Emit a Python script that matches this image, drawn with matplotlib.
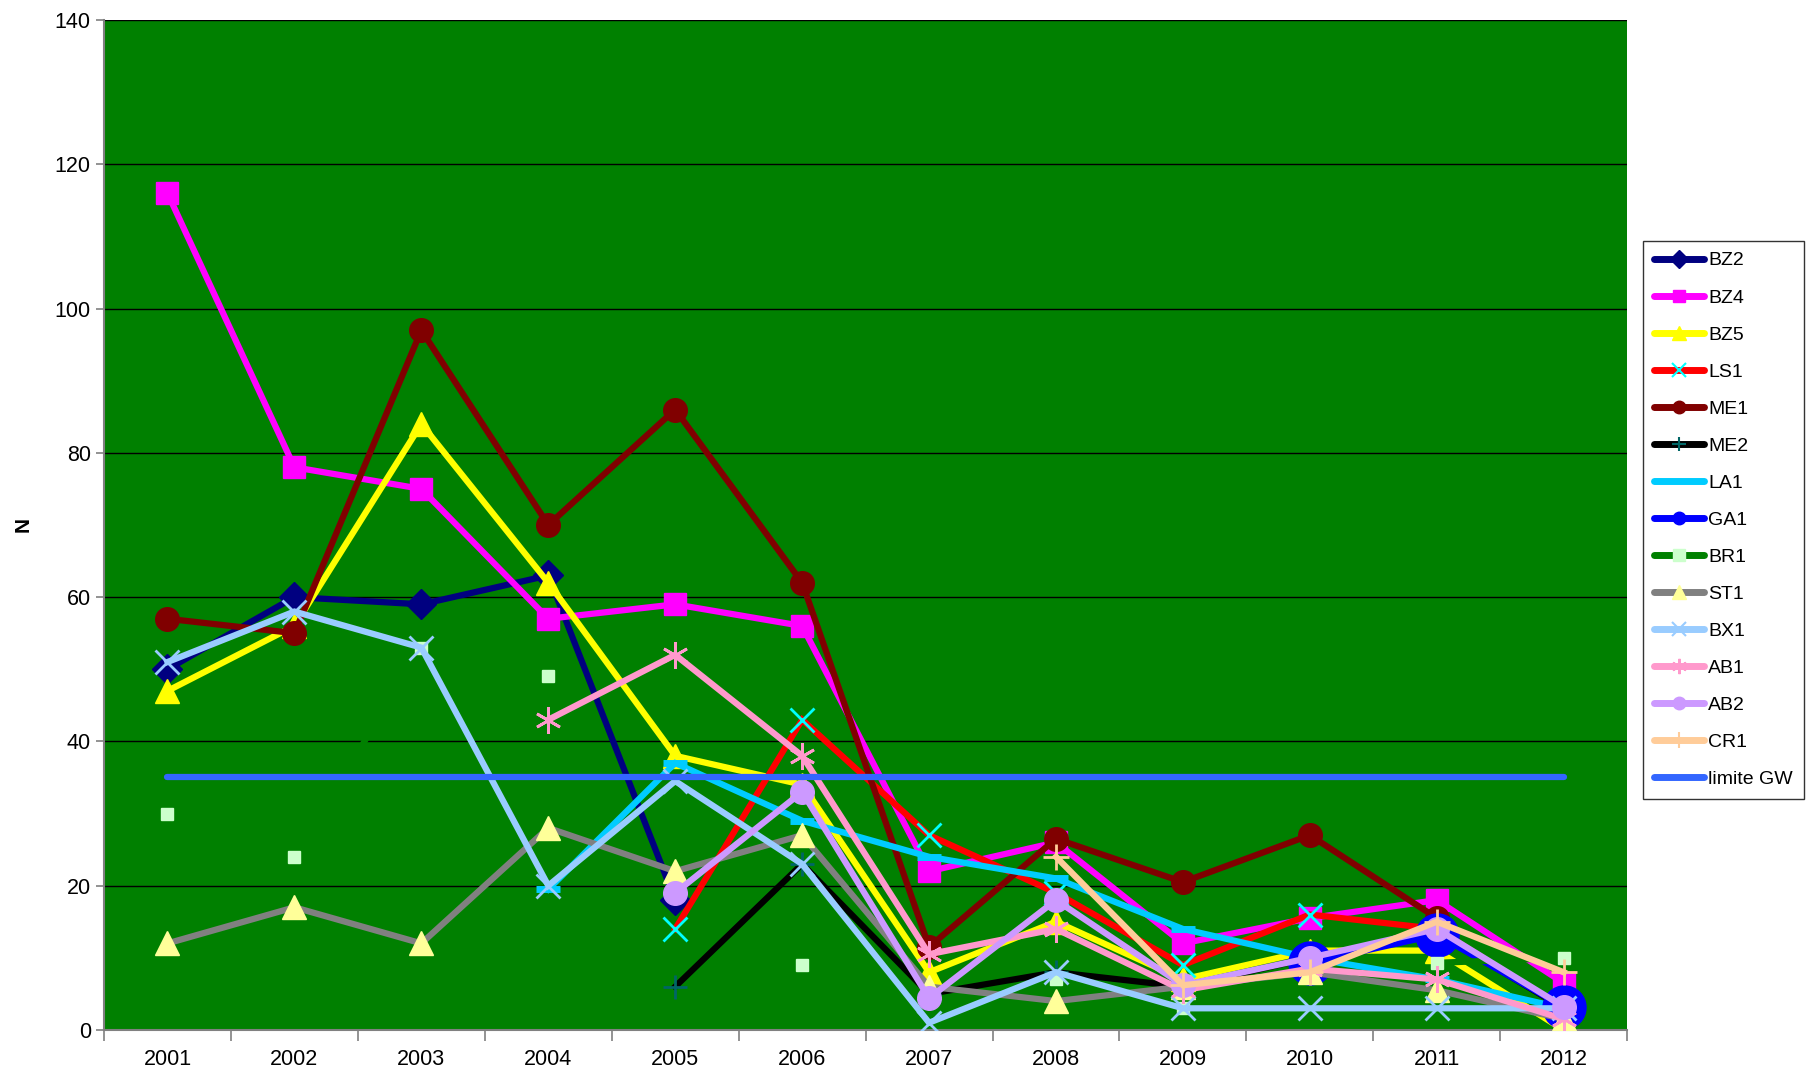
import numpy as np
import matplotlib
matplotlib.use("Agg")
import matplotlib.pyplot as plt
from matplotlib.lines import Line2D

nan = np.nan
years = ['2001', '2002', '2003', '2004', '2005', '2006',
         '2007', '2008', '2009', '2010', '2011', '2012']

bz2 = [50, 60, 59, 63, 18, nan, nan, nan, nan, nan, nan, nan]
bz4 = [116, 78, 75, 57, 59, 56, 22, 26, 12, 15.5, 18, 6.5]
bz5 = [47, 56, 84, 62, 38, 34, 8, 15, 7, 11, 11, 0]
ls1 = [nan, nan, nan, nan, 14, 43, 27, 19, 9, 16, 14, 3]
me1 = [57, 55, 97, 70, 86, 62, 11.5, 26.5, 20.5, 27, 15.5, nan]
me2 = [nan, nan, nan, nan, 6, 23, 5, 8, 6, 10, 13.5, 3]
la1 = [nan, nan, nan, 19.5, 37, 29, 24, 21, 14, 10, 7, 3]
ga1 = [nan, nan, nan, nan, nan, nan, nan, nan, nan, 9.3, 13.2, 3.2]
br1 = [30, 24, 53, 49, nan, 9, nan, 7, 3, nan, 9.3, 10]
st1 = [12, 17, 12, 28, 22, 27, 6, 4, 6, 8, 5.5, 1.5]
bx1 = [51, 58, 53, 20, 34.5, 23, 1, 8, 3, 3, 3, 3]
ab1 = [nan, nan, nan, 43, 52, 38, 10.5, 14, 5.5, 8.5, 7, 1.5]
ab2 = [nan, nan, nan, nan, 19, 33, 4.4, 18, 6.2, 10, 14, 3.2]
cr1 = [nan, nan, nan, nan, nan, nan, nan, 24, 6.2, 8, 15, 8]
limite = [35] * 12

plt.rcParams['font.family'] = ['Liberation Sans', 'DejaVu Sans']

fig = plt.figure(figsize=(18.09, 10.76), dpi=100)
ax = fig.add_axes([0.0575, 0.0428, 0.842, 0.9386])
ax.set_facecolor('#008000')

x = np.arange(len(years))
asterisk = (6, 2, 0)

# (label, values, line colour, marker, marker face, marker edge, size, edge width, legend size)
series = [
    ('BZ2', bz2, '#000080', 'D', '#000080', '#000080', 15, 1, 9),
    ('BZ4', bz4, '#FF00FF', 's', '#FF00FF', '#FF00FF', 16, 1, 9),
    ('BZ5', bz5, '#FFFF00', '^', '#FFFF00', '#FFFF00', 17, 1, 10),
    ('LS1', ls1, '#FF0000', 'x', '#00FFFF', '#00FFFF', 17, 2, 10),
    ('ME1', me1, '#800000', 'o', '#800000', '#800000', 17, 1, 9),
    ('ME2', me2, '#000000', '+', '#006666', '#006666', 17, 2, 10),
    ('LA1', la1, '#00CCFF', '_', '#00CCFF', '#00CCFF', 17, 5, 0),
    ('GA1', ga1, '#0000FF', 'o', '#0000FF', '#0000FF', 31, 1, 9),
    ('BR1', br1, '#008000', 's', '#CCFFCC', '#CCFFCC', 9, 1, 9),
    ('ST1', st1, '#808080', '^', '#FFFF99', '#FFFF99', 17, 1, 10),
    ('BX1', bx1, '#99CCFF', 'x', '#99CCFF', '#99CCFF', 17, 2, 10),
    ('AB1', ab1, '#FF99CC', asterisk, '#FF99CC', '#FF99CC', 19, 2, 11),
    ('AB2', ab2, '#CC99FF', 'o', '#CC99FF', '#CC99FF', 17, 1, 9),
    ('CR1', cr1, '#FFCC99', '+', '#FFCC99', '#FFCC99', 19, 2, 11),
]

handles = []
for i, (lab, vals, col, mk, mfc, mec, ms, mew, lms) in enumerate(series):
    ax.plot(x, vals, color=col, lw=4.5, marker=mk, markerfacecolor=mfc,
            markeredgecolor=mec, markersize=ms, markeredgewidth=mew,
            zorder=3 + i * 0.1, solid_joinstyle='miter')
    handles.append(Line2D([], [], color=col, lw=5, marker=mk if lms else None,
                          markerfacecolor=mfc, markeredgecolor=mec,
                          markersize=lms, markeredgewidth=min(mew, 1.5),
                          solid_capstyle='round', label=lab))

ax.plot(x, limite, color='#3366FF', lw=4.5, solid_capstyle='round', zorder=5)
handles.append(Line2D([], [], color='#3366FF', lw=5, solid_capstyle='round',
                      label='limite GW'))

ax.set_xlim(-0.5, 11.5)
ax.set_ylim(0, 140)
ax.set_yticks(range(0, 141, 20))
ax.yaxis.grid(True, color='black', lw=1)
ax.set_axisbelow(True)
ax.set_xticks(x)
ax.set_xticklabels(years)
ax.set_xticks(np.arange(-0.5, 12, 1), minor=True)
ax.tick_params(axis='x', which='major', length=0, labelsize=15.5, pad=14)
ax.tick_params(axis='x', which='minor', length=8, color='#808080', width=1.2)
ax.tick_params(axis='y', length=6, color='#808080', width=1.2, labelsize=15.5)
for s in ['top', 'right']:
    ax.spines[s].set_visible(False)
for s in ['left', 'bottom']:
    ax.spines[s].set_color('#808080')
    ax.spines[s].set_linewidth(1.5)

ax.set_ylabel('N', fontsize=15, fontweight='bold', labelpad=16)

leg = ax.legend(handles=handles, loc='upper left', bbox_to_anchor=(1.0105, 0.781),
                fontsize=14, frameon=True, fancybox=False, edgecolor='black',
                numpoints=1, handlelength=2.6, labelspacing=1.0,
                handletextpad=0.2, borderpad=0.55, borderaxespad=0)
leg.get_frame().set_linewidth(1)

fig.savefig('out.png', dpi=100)
